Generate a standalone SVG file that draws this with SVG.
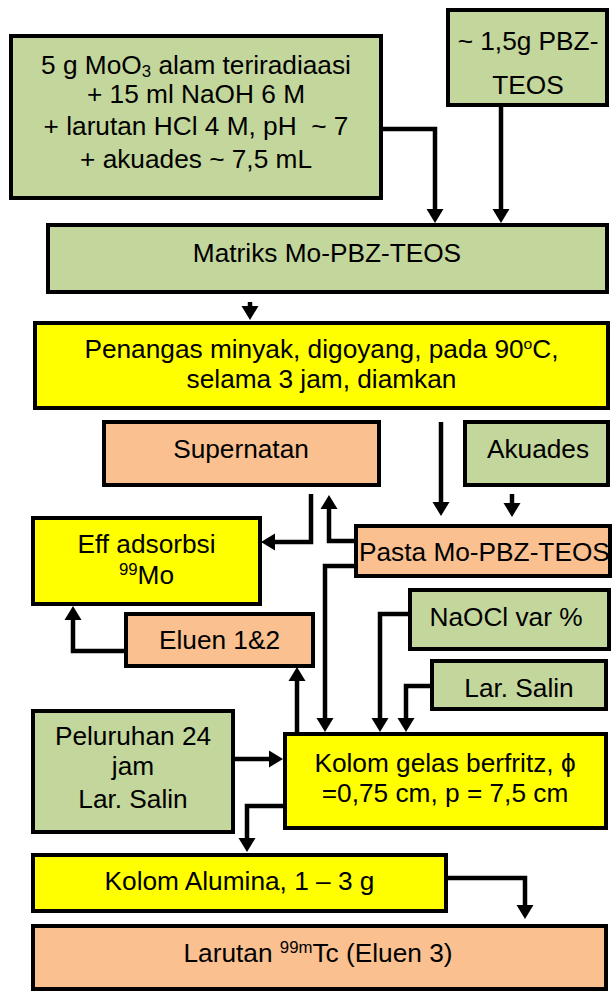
<svg xmlns="http://www.w3.org/2000/svg" width="612" height="993" viewBox="0 0 612 993">
<style>
.b{stroke:#000;stroke-width:4}
.g{fill:#C3D69B}.o{fill:#FAC090}.y{fill:#FFFF00}
text{font-family:"Liberation Sans",Arial,sans-serif;font-size:25px;text-anchor:middle;fill:#000}
#connectors path{fill:none;stroke:#000;stroke-width:4.5;stroke-linejoin:miter;marker-end:url(#ah)}
</style>
<defs>
<marker id="ah" markerUnits="userSpaceOnUse" markerWidth="15" markerHeight="17" refX="0" refY="8.5" orient="auto" overflow="visible">
<path d="M0,0 L14,8.5 L0,17 Z" fill="#000"/>
</marker>
</defs>
<rect width="612" height="993" fill="#fff"/>
<g id="connectors">
<path d="M381,129 H435 V209"/>
<path d="M501,105 V209"/>
<path d="M250,302 V306"/>
<path d="M441,422 V502"/>
<path d="M512,494 V503"/>
<path d="M311,494 V542 H275"/>
<path d="M356,541 H329 V509"/>
<path d="M356,566 H325 V718"/>
<path d="M410,614 H380 V718"/>
<path d="M432,686 H406 V718"/>
<path d="M297,734 V681"/>
<path d="M126,651 H73 V620"/>
<path d="M233,759 H269"/>
<path d="M285,806 H247 V838"/>
<path d="M446,878 H525 V905"/>
</g>
<g id="n-mo">
<rect class="b g" x="11" y="36" width="370" height="162"/>
<text transform="translate(196 0) scale(1.05 1)"><tspan x="0" y="74">5 g MoO<tspan font-size="16" dy="3">3</tspan><tspan dy="-3"> alam teriradiaasi</tspan></tspan><tspan x="0" y="103">+ 15 ml NaOH 6 M</tspan><tspan x="0" y="135">+ larutan HCl 4 M, pH &#160;~ 7</tspan><tspan x="0" y="168">+ akuades ~ 7,5 mL</tspan></text>
</g>
<g id="n-pbz">
<rect class="b g" x="448" y="10" width="159" height="95"/>
<text transform="translate(528 0) scale(1.05 1)"><tspan x="0" y="50">~ 1,5g PBZ-</tspan><tspan x="0" y="94">TEOS</tspan></text>
</g>
<g id="n-matriks">
<rect class="b g" x="48" y="225" width="559" height="67"/>
<text transform="translate(327 0) scale(1.05 1)" x="0" y="262">Matriks Mo-PBZ-TEOS</text>
</g>
<g id="n-penangas">
<rect class="b y" x="35" y="323" width="573" height="85"/>
<text transform="translate(321.5 0) scale(1.05 1)"><tspan x="0" y="358">Penangas minyak, digoyang, pada 90<tspan font-size="15" dy="-9">o</tspan><tspan dy="9">C,</tspan></tspan><tspan x="0" y="388">selama 3 jam, diamkan</tspan></text>
</g>
<g id="n-supernatan">
<rect class="b o" x="104" y="422" width="275" height="63"/>
<text transform="translate(241 0) scale(1.05 1)" x="0" y="458">Supernatan</text>
</g>
<g id="n-akuades">
<rect class="b g" x="465" y="422" width="143" height="63"/>
<text transform="translate(538 0) scale(1.05 1)" x="0" y="458">Akuades</text>
</g>
<g id="n-eff">
<rect class="b y" x="33" y="518" width="227" height="86"/>
<text transform="translate(146.5 0) scale(1.05 1)"><tspan x="0" y="553">Eff adsorbsi</tspan><tspan x="0" y="584"><tspan font-size="16" dy="-9">99</tspan><tspan dy="9">Mo</tspan></tspan></text>
</g>
<g id="n-pasta">
<rect class="b o" x="356" y="526" width="254" height="50"/>
<text transform="translate(359 0) scale(1.05 1)" x="0" y="561" style="text-anchor:start">Pasta Mo-PBZ-TEOS</text>
</g>
<g id="n-naocl">
<rect class="b g" x="410" y="590" width="199" height="59"/>
<text transform="translate(506 0) scale(1.05 1)" x="0" y="626">NaOCl var %</text>
</g>
<g id="n-eluen">
<rect class="b o" x="126" y="614" width="187" height="52"/>
<text transform="translate(219.5 0) scale(1.05 1)" x="0" y="649">Eluen 1&amp;2</text>
</g>
<g id="n-larsalin">
<rect class="b g" x="432" y="661" width="174" height="48"/>
<text transform="translate(519 0) scale(1.05 1)" x="0" y="697">Lar. Salin</text>
</g>
<g id="n-peluruhan">
<rect class="b g" x="33" y="711" width="200" height="121"/>
<text transform="translate(133 0) scale(1.05 1)"><tspan x="0" y="745">Peluruhan 24</tspan><tspan x="0" y="775">jam</tspan><tspan x="0" y="808">Lar. Salin</tspan></text>
</g>
<g id="n-kolom">
<rect class="b y" x="285" y="734" width="321" height="94"/>
<text transform="translate(445 0) scale(1.05 1)"><tspan x="0" y="772">Kolom gelas berfritz, ϕ</tspan><tspan x="0" y="802">=0,75 cm, p = 7,5 cm</tspan></text>
</g>
<g id="n-alumina">
<rect class="b y" x="33" y="855" width="413" height="56"/>
<text transform="translate(239.5 0) scale(1.05 1)" x="0" y="890">Kolom Alumina, 1 – 3 g</text>
</g>
<g id="n-larutan">
<rect class="b o" x="33" y="926" width="573" height="63"/>
<text transform="translate(318 0) scale(1.05 1)" x="0" y="962">Larutan <tspan font-size="16" dy="-9">99m</tspan><tspan dy="9">Tc (Eluen 3)</tspan></text>
</g>
</svg>
